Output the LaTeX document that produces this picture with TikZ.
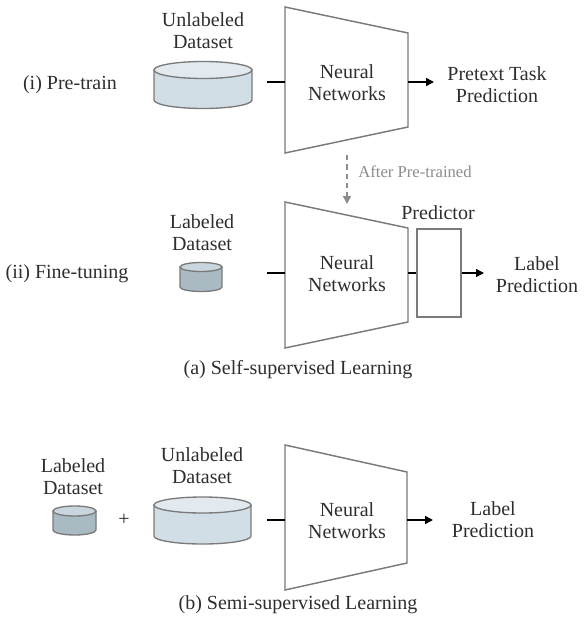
\documentclass[tikz,border=0pt]{standalone}
\usepackage{fontspec}
\setmainfont{Liberation Serif}
\newfontfamily\tnr{Liberation Serif}
\usetikzlibrary{arrows.meta}
\definecolor{txt}{HTML}{2E2E2E}
\definecolor{edge}{HTML}{7A7A7A}
\definecolor{bigbody}{HTML}{D2DEE5}
\definecolor{bigtop}{HTML}{E2EAEF}
\definecolor{smbody}{HTML}{A9BAC3}
\definecolor{smtop}{HTML}{C9D6DD}
\definecolor{hint}{HTML}{8C8C8C}
\newcommand\dbcyl[7]{%
  \filldraw[cylline, fill=#6] (#1-#4,#2) -- (#1-#4,#3) arc[start angle=180,end angle=0,x radius=#4,y radius=#5] -- (#1+#4,#2) -- cycle;
  \filldraw[cylline, fill=#7] (#1,#2) ellipse[x radius=#4, y radius=#5];
}
\begin{document}
\begin{tikzpicture}[x=0.75pt,y=-0.75pt,
  lbl/.style={text=txt, font=\tnr\fontsize{15}{16.5}\selectfont, align=center, inner sep=0pt},
  hintlbl/.style={text=hint, font=\tnr\fontsize{12.5}{14}\selectfont, inner sep=0pt},
  nnet/.style={draw=edge, line width=1.1pt, line join=miter},
  cylline/.style={draw=edge, line width=1pt},
  conn/.style={draw=black, line width=1.1pt},
  arr/.style={conn, -{Triangle[length=6pt,width=6pt]}},
  predbox/.style={draw=edge, line width=1.1pt, minimum width=33pt, minimum height=66pt, inner sep=0pt}]
\useasboundingbox (0,0) rectangle (587,624);

% ---------- (i) Pre-train ----------
\node[lbl] (pre) at (70,85) {(i) Pre-train};
\node[lbl] (ulab1) at (203,31) {Unlabeled\\Dataset};
\dbcyl{203}{70}{100}{49}{8.5}{bigbody}{bigtop}
\coordinate (ud1) at (267,82);
\coordinate (n1a) at (285,7);
\coordinate (n1b) at (408,33);
\coordinate (n1c) at (408,127);
\coordinate (n1d) at (285,153);
\coordinate (n1l) at (285,82);
\coordinate (n1r) at (408,82);
\draw[nnet] (n1a) -- (n1b) -- (n1c) -- (n1d) -- cycle;
\node[lbl] (nn1) at (347,83) {Neural\\Networks};
\coordinate (o1) at (434,82);
\draw[conn] (ud1) -- (n1l);
\draw[arr] (n1r) -- (o1);
\node[lbl] (ptp) at (497,85) {Pretext Task\\Prediction};

% ---------- after pre-trained ----------
\coordinate (d1) at (347,155);
\coordinate (d2) at (347,204);
\draw[hint, line width=1.1pt, dash pattern=on 4pt off 3pt, -{Triangle[length=6pt,width=6pt]}] (d1) -- (d2);
\node[hintlbl] (apt) at (415,172) {After Pre-trained};

% ---------- (ii) Fine-tuning ----------
\node[lbl] (ft) at (67,274) {(ii) Fine-tuning};
\node[lbl] (lab1) at (202,233) {Labeled\\Dataset};
\dbcyl{201}{267}{287}{21}{4.5}{smbody}{smtop}
\coordinate (ld1) at (267,273);
\coordinate (n2a) at (285,202);
\coordinate (n2b) at (408,228);
\coordinate (n2c) at (408,322);
\coordinate (n2d) at (285,348);
\coordinate (n2l) at (285,273);
\coordinate (n2r) at (408,273);
\draw[nnet] (n2a) -- (n2b) -- (n2c) -- (n2d) -- cycle;
\node[lbl] (nn2) at (347,274) {Neural\\Networks};
\node[predbox] (pred) at (439,273) {};
\node[lbl] (predl) at (438,213) {Predictor};
\coordinate (o2) at (484,273);
\draw[conn] (ld1) -- (n2l);
\draw[conn] (n2r) -- (pred.west);
\draw[arr] (pred.east) -- (o2);
\node[lbl] (lp1) at (537,275) {Label\\Prediction};
\node[lbl] (capa) at (298,370) {(a) Self-supervised Learning};

% ---------- (b) Semi-supervised ----------
\node[lbl] (lab2) at (73,477) {Labeled\\Dataset};
\dbcyl{74.5}{511}{530}{21.5}{5}{smbody}{smtop}
\node[lbl] (plus) at (124,520) {+};
\node[lbl] (ulab2) at (202,466) {Unlabeled\\Dataset};
\dbcyl{202.5}{505}{536}{48.5}{8}{bigbody}{bigtop}
\coordinate (ud3) at (267,520);
\coordinate (n3a) at (285,445);
\coordinate (n3b) at (407,472);
\coordinate (n3c) at (407,563);
\coordinate (n3d) at (285,590);
\coordinate (n3l) at (285,520);
\coordinate (n3r) at (407,520);
\draw[nnet] (n3a) -- (n3b) -- (n3c) -- (n3d) -- cycle;
\node[lbl] (nn3) at (347,521) {Neural\\Networks};
\coordinate (o3) at (433,520);
\draw[conn] (ud3) -- (n3l);
\draw[arr] (n3r) -- (o3);
\node[lbl] (lp2) at (493,520) {Label\\Prediction};
\node[lbl] (capb) at (298,605) {(b) Semi-supervised Learning};
\end{tikzpicture}
\end{document}
